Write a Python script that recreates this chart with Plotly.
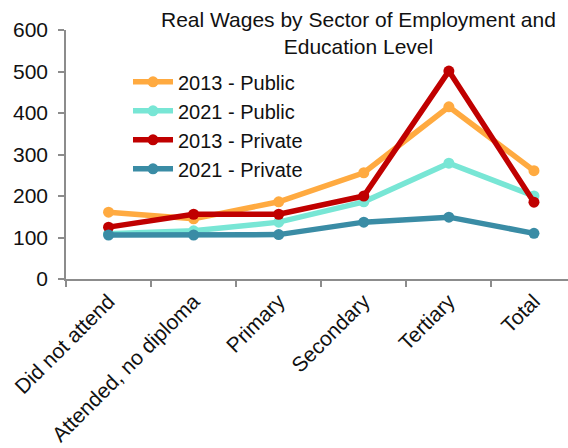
import plotly.graph_objects as go

# Education levels on the x axis
categories = ["Did not attend", "Attended, no diploma", "Primary",
              "Secondary", "Tertiary", "Total"]

# Real wages by sector and year
public_2013 = [161, 145, 186, 256, 415, 261]
public_2021 = [109, 116, 137, 186, 279, 200]
private_2013 = [125, 156, 156, 200, 501, 185]
private_2021 = [106, 106, 107, 137, 149, 110]

series_names = ["2013 - Public", "2021 - Public", "2013 - Private", "2021 - Private"]
series_values = [public_2013, public_2021, private_2013, private_2021]
series_colors = ["#FFAA40", "#78E6D5", "#C00000", "#3A8CA5"]

FONT = "Liberation Sans, Arial, sans-serif"
AXIS_GREY = "#8c8c8c"
TEXT = "#111111"

fig = go.Figure()
for name, vals, color in zip(series_names, series_values, series_colors):
    fig.add_trace(go.Scatter(
        x=categories, y=vals, name=name,
        mode="lines+markers",
        line=dict(color=color, width=5.5),
        marker=dict(color=color, size=11),
    ))

fig.add_annotation(
    text="Real Wages by Sector of Employment and<br>Education Level",
    xref="paper", yref="paper",
    x=(358 - 66) / 502, xanchor="center",
    y=(279 - 6) / 249, yanchor="top",
    showarrow=False, align="center",
    font=dict(family=FONT, size=21, color=TEXT),
)

fig.update_layout(
    width=568, height=448,
    margin=dict(l=66, r=0, t=30, b=169),
    paper_bgcolor="white", plot_bgcolor="white",
    font=dict(family=FONT, size=21, color=TEXT),
    legend=dict(
        x=0.1235, y=0.87, xanchor="left", yanchor="top",
        bgcolor="rgba(0,0,0,0)",
        font=dict(family=FONT, size=20, color=TEXT),
        itemwidth=40,
        tracegroupgap=0,
    ),
    showlegend=True,
)

fig.update_xaxes(
    type="category",
    range=[-0.5, 5.4],
    tickson="boundaries",
    ticks="outside", ticklen=6, tickwidth=1.5, tickcolor=AXIS_GREY,
    showline=True, linecolor=AXIS_GREY, linewidth=1.5,
    showgrid=False, zeroline=False,
    tickangle=-45,
    tickfont=dict(family=FONT, size=21, color=TEXT),
    automargin=False,
)
fig.update_yaxes(
    range=[0, 600],
    tickvals=[0, 100, 200, 300, 400, 500, 600],
    ticks="outside", ticklen=6, tickwidth=1.5, tickcolor=AXIS_GREY,
    showline=True, linecolor=AXIS_GREY, linewidth=1.5,
    showgrid=False, zeroline=False,
    tickfont=dict(family=FONT, size=21, color=TEXT),
    ticklabelstandoff=6,
    automargin=False,
)

fig.write_html("out.html")
